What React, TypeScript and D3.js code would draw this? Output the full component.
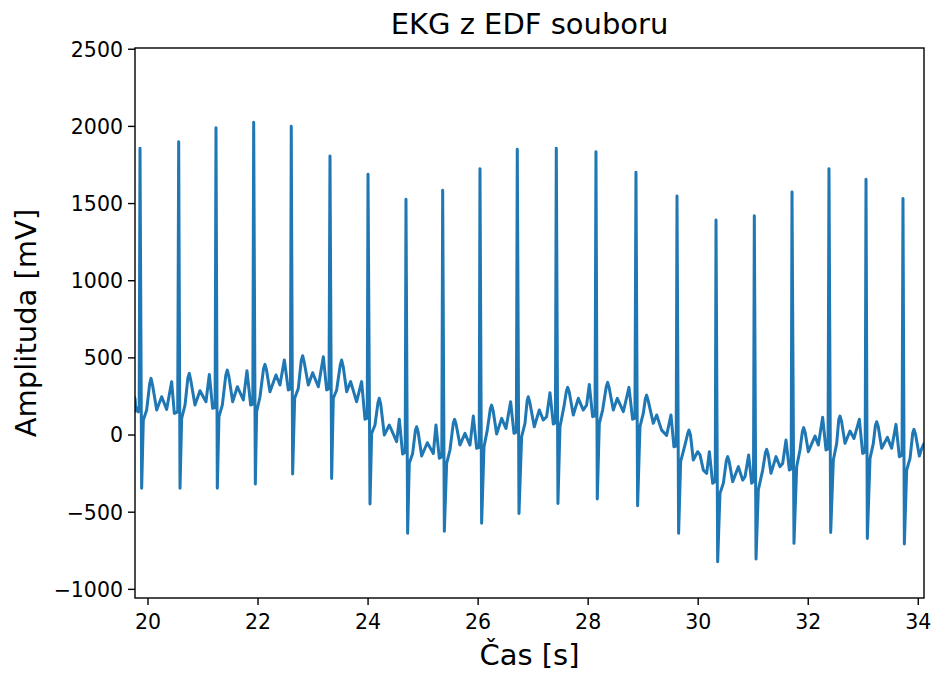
import React from "react";
import * as d3 from "d3";

// EKG samples: [time s, amplitude mV]
const ekg: [number, number][] = [
  [19.75, 250], [19.765, 235], [19.78, 155], [19.8, 175], [19.825, 150], [19.84, 160],
  [19.855, 1858], [19.885, -345],
  [19.915, 97], [19.976, 162], [20.03, 330], [20.055, 367], [20.085, 320], [20.158, 162], [20.248, 248], [20.339, 166], [20.43, 346], [20.479, 140], [20.54, 150],
  [20.558, 1901], [20.582, -345],
  [20.612, 108], [20.673, 194], [20.725, 370], [20.751, 400], [20.78, 350], [20.854, 194], [20.945, 287], [21.054, 216], [21.115, 393], [21.175, 173], [21.22, 180],
  [21.236, 1992], [21.26, -345],
  [21.29, 119], [21.351, 194], [21.415, 390], [21.442, 421], [21.47, 380], [21.539, 216], [21.624, 313], [21.733, 227], [21.799, 417], [21.866, 194], [21.905, 200],
  [21.921, 2027], [21.951, -318],
  [21.975, 151], [22.036, 248], [22.1, 430], [22.126, 458], [22.155, 420], [22.217, 281], [22.326, 389], [22.399, 324], [22.478, 486], [22.551, 292], [22.59, 300],
  [22.604, 2001], [22.629, -253],
  [22.666, 238], [22.732, 302], [22.785, 480], [22.811, 514], [22.84, 470], [22.914, 324], [22.993, 404], [23.096, 313], [23.187, 508], [23.247, 292], [23.29, 300],
  [23.308, 1808], [23.338, -281],
  [23.368, 238], [23.429, 292], [23.495, 455], [23.52, 486], [23.55, 440], [23.611, 281], [23.683, 346], [23.792, 216], [23.883, 346], [23.944, 102], [23.985, 110],
  [23.999, 1690], [24.035, -447],
  [24.065, 11], [24.126, 65], [24.18, 210], [24.204, 238], [24.23, 200], [24.295, 0], [24.386, 65], [24.519, -43], [24.568, 102], [24.628, -123], [24.675, -110],
  [24.689, 1528], [24.719, -637],
  [24.749, -183], [24.81, -119], [24.86, 30], [24.883, 54], [24.91, 20], [24.974, -136], [25.077, -50], [25.186, -119], [25.234, 65], [25.295, -151], [25.34, -140],
  [25.356, 1586], [25.386, -624],
  [25.428, -183], [25.489, -97], [25.55, 80], [25.573, 102], [25.6, 70], [25.67, -65], [25.761, 11], [25.852, -65], [25.913, 123], [25.973, -86], [26.02, -80],
  [26.034, 1726], [26.064, -572],
  [26.107, -76], [26.167, 32], [26.222, 170], [26.246, 194], [26.272, 160], [26.337, 7], [26.428, 108], [26.506, 43], [26.591, 216], [26.652, 11], [26.695, 20],
  [26.712, 1852], [26.743, -508],
  [26.791, -11], [26.852, 76], [26.89, 220], [26.912, 248], [26.94, 210], [27.021, 54], [27.112, 162], [27.185, 97], [27.245, 119], [27.306, 274], [27.367, 71], [27.405, 80],
  [27.421, 1858], [27.451, -443],
  [27.488, 54], [27.56, 184], [27.605, 285], [27.627, 309], [27.655, 280], [27.73, 130], [27.821, 238], [27.912, 162], [27.972, 194], [28.021, 328], [28.081, 119], [28.125, 125],
  [28.142, 1836], [28.166, -415],
  [28.203, 76], [28.263, 162], [28.33, 315], [28.354, 341], [28.38, 310], [28.457, 162], [28.53, 238], [28.639, 151], [28.742, 309], [28.808, 102], [28.85, 110],
  [28.869, 1703], [28.899, -458],
  [28.942, 54], [29.002, 140], [29.04, 235], [29.063, 259], [29.09, 225], [29.184, 76], [29.245, 130], [29.335, 32], [29.426, -2], [29.505, 130], [29.559, -76], [29.6, -70],
  [29.615, 1549], [29.644, -637],
  [29.681, -173], [29.759, -65], [29.81, 10], [29.832, 32], [29.86, 0], [29.911, -162], [29.99, -108], [30.033, -129], [30.094, -227], [30.154, -248], [30.203, -108], [30.263, -313], [30.31, -300],
  [30.324, 1393], [30.354, -821],
  [30.396, -378], [30.457, -313], [30.512, -165], [30.536, -140], [30.565, -175], [30.627, -302], [30.73, -205], [30.809, -292], [30.851, -270], [30.917, -129], [30.972, -313], [31.005, -300],
  [31.02, 1421], [31.051, -804],
  [31.093, -356], [31.172, -227], [31.222, -115], [31.245, -93], [31.272, -125], [31.323, -248], [31.414, -140], [31.487, -205], [31.535, -184], [31.596, -32], [31.657, -227], [31.69, -220],
  [31.705, 1575], [31.741, -702],
  [31.79, -205], [31.85, -97], [31.895, 25], [31.917, 48], [31.945, 15], [32.002, -108], [32.123, -6], [32.184, -65], [32.262, 115], [32.323, -97], [32.36, -90],
  [32.377, 1726], [32.408, -631],
  [32.456, -162], [32.517, -54], [32.555, 100], [32.577, 123], [32.605, 90], [32.668, -54], [32.759, 26], [32.832, -22], [32.929, 102], [32.989, -119], [33.035, -110],
  [33.05, 1657], [33.074, -670],
  [33.123, -151], [33.183, -54], [33.22, 60], [33.244, 86], [33.272, 55], [33.335, -86], [33.438, -15], [33.516, -86], [33.595, 69], [33.656, -140], [33.705, -130],
  [33.722, 1532], [33.747, -706],
  [33.789, -227], [33.85, -151], [33.9, 15], [33.922, 37], [33.95, 5], [34.019, -136], [34.06, -90], [34.11, -50],
];

const xTicks = [20, 22, 24, 26, 28, 30, 32, 34];
const yTicks = [-1000, -500, 0, 500, 1000, 1500, 2000, 2500];

const W = 934;
const H = 675;
const plot = { left: 135, top: 48, right: 924, bottom: 598 };
const font = "'DejaVu Sans', sans-serif";

const App = () => {
  const x = d3.scaleLinear().domain([19.764, 34.104]).range([plot.left, plot.right]);
  const y = d3.scaleLinear().domain([-1056, 2508]).range([plot.bottom, plot.top]);

  const line = d3
    .line<[number, number]>()
    .x((d) => x(d[0]))
    .y((d) => y(d[1]));

  const fmt = (v: number) => (v < 0 ? "\u2212" + Math.abs(v) : String(v));

  return (
    <svg width={W} height={H} style={{ position: "absolute", left: 0, top: 0 }}>
      <rect width={W} height={H} fill="#fff" />
      <defs>
        <clipPath id="plotClip">
          <rect x={plot.left} y={plot.top} width={plot.right - plot.left} height={plot.bottom - plot.top} />
        </clipPath>
      </defs>

      <path
        d={line(ekg) ?? ""}
        fill="none"
        stroke="#1f77b4"
        strokeWidth={3}
        strokeLinejoin="round"
        clipPath="url(#plotClip)"
      />

      {/* frame */}
      <rect
        x={plot.left}
        y={plot.top}
        width={plot.right - plot.left}
        height={plot.bottom - plot.top}
        fill="none"
        stroke="#000"
        strokeWidth={1.4}
      />

      {/* y axis */}
      {yTicks.map((t) => (
        <g key={"y" + t}>
          <line x1={plot.left - 7} x2={plot.left} y1={y(t)} y2={y(t)} stroke="#000" strokeWidth={1.4} />
          <text
            x={plot.left - 12}
            y={y(t)}
            dy="0.36em"
            textAnchor="end"
            fontFamily={font}
            fontSize={20.5}
            fill="#000"
          >
            {fmt(t)}
          </text>
        </g>
      ))}

      {/* x axis */}
      {xTicks.map((t) => (
        <g key={"x" + t}>
          <line x1={x(t)} x2={x(t)} y1={plot.bottom} y2={plot.bottom + 7} stroke="#000" strokeWidth={1.4} />
          <text x={x(t)} y={629} textAnchor="middle" fontFamily={font} fontSize={20.5} fill="#000">
            {t}
          </text>
        </g>
      ))}

      <text
        x={(plot.left + plot.right) / 2}
        y={34}
        textAnchor="middle"
        fontFamily={font}
        fontSize={29}
        fill="#000"
      >
        EKG z EDF souboru
      </text>
      <text
        x={(plot.left + plot.right) / 2}
        y={665}
        textAnchor="middle"
        fontFamily={font}
        fontSize={29}
        fill="#000"
      >
        Čas [s]
      </text>
      <text
        transform={`translate(36,${(plot.top + plot.bottom) / 2}) rotate(-90)`}
        textAnchor="middle"
        fontFamily={font}
        fontSize={29}
        fill="#000"
      >
        Amplituda [mV]
      </text>
    </svg>
  );
};

export default App;
